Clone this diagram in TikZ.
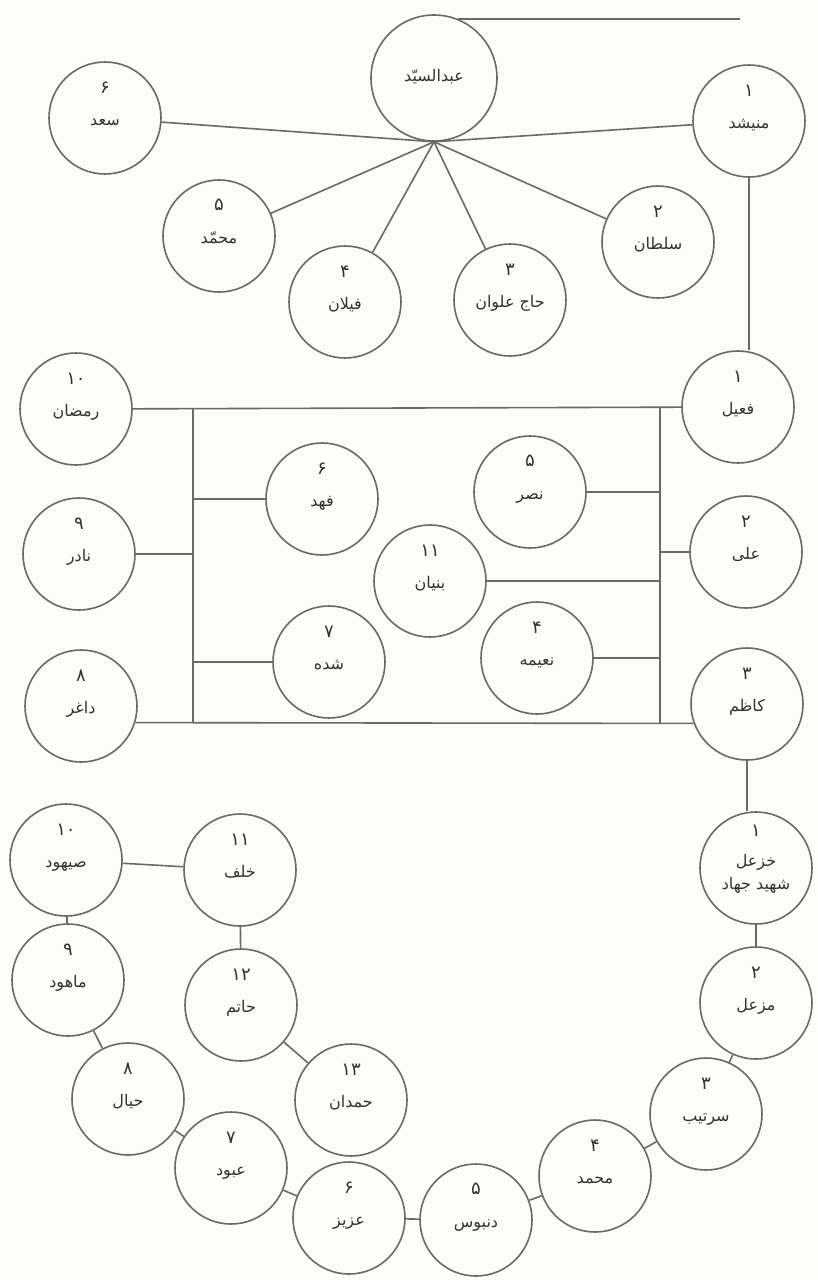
\documentclass[tikz,border=0pt]{standalone}
\usepackage{fontspec}
\usepackage{tikz}
\TeXXeTstate=1
\newfontfamily\arabicfont[Script=Arabic]{DejaVu Sans}
\definecolor{InkGray}{HTML}{333333}
\definecolor{LineGray}{HTML}{6A6A6A}
\definecolor{Paper}{HTML}{FCFCF9}
\newcommand{\rtl}[1]{\beginR#1\endR}

\begin{document}
\begin{tikzpicture}[
  x=1pt,y=-1pt,
  every node/.style={text=InkGray,align=center},
  person/.style={circle,draw=LineGray,line width=1.6pt,minimum size=112pt,inner sep=0pt,text height=19pt,text depth=5pt,font=\arabicfont\fontsize{16}{23}\selectfont},
  elder/.style={person,minimum size=126pt,text height=12pt},
  num/.style={font=\arabicfont\fontsize{18}{20}\selectfont,inner sep=0pt,yshift=-32pt,text=InkGray},
  link/.style={draw=LineGray,line width=1.6pt}
]
\useasboundingbox (0,0) rectangle (818,1280);
\fill[Paper] (0,0) rectangle (818,1280);

\node[elder] (abd) at (434,78) {\rtl{عبدالسیّد}};
\node[person,label={[num]above:۱}] (menishd) at (749,121) {\rtl{منیشد}};
\node[person,label={[num]above:۲}] (sultan) at (658,242) {\rtl{سلطان}};
\node[person,label={[num]above:۳}] (hajalwan) at (510,300) {\rtl{حاج علوان}};
\node[person,label={[num]above:۴}] (feylan) at (345,302) {\rtl{فیلان}};
\node[person,label={[num]above:۵}] (muhammadA) at (219,236) {\rtl{محمّد}};
\node[person,label={[num]above:۶}] (saad) at (105,118) {\rtl{سعد}};
\coordinate (topend) at (740,18);

\node[person,label={[num]above:۱}] (faeel) at (738,407) {\rtl{فعیل}};
\node[person,label={[num]above:۲}] (ali) at (746,552) {\rtl{علی}};
\node[person,label={[num]above:۳}] (kazim) at (747,704) {\rtl{کاظم}};
\node[person,label={[num]above:۴}] (naeemeh) at (537,658) {\rtl{نعیمه}};
\node[person,label={[num]above:۵}] (nasr) at (530,492) {\rtl{نصر}};
\node[person,label={[num]above:۶}] (fahd) at (322,499) {\rtl{فهد}};
\node[person,label={[num]above:۷}] (shidah) at (329,662) {\rtl{شده}};
\node[person,label={[num]above:۸}] (daghir) at (81,706) {\rtl{داغر}};
\node[person,label={[num]above:۹}] (nadir) at (79,554) {\rtl{نادر}};
\node[person,label={[num]above:۱۰}] (ramadan) at (76,409) {\rtl{رمضان}};
\node[person,label={[num]above:۱۱}] (bunyan) at (430,581) {\rtl{بنیان}};
\coordinate (lbtop) at (193,408);
\coordinate (lbbot) at (193,722);
\coordinate (rbtop) at (660,407);
\coordinate (rbbot) at (660,724);

\node[person,text height=47pt,label={[num,yshift=7pt]above:۱}] (khazal) at (756,868) {\rtl{خزعل}\\\rtl{شهید جهاد}};
\node[person,label={[num]above:۲}] (mazal) at (756,1003) {\rtl{مزعل}};
\node[person,label={[num]above:۳}] (sartib) at (706,1114) {\rtl{سرتیب}};
\node[person,label={[num]above:۴}] (muhammadB) at (595,1176) {\rtl{محمد}};
\node[person,label={[num]above:۵}] (danbus) at (476,1220) {\rtl{دنبوس}};
\node[person,label={[num]above:۶}] (aziz) at (349,1218) {\rtl{عزیز}};
\node[person,label={[num]above:۷}] (abbud) at (231,1168) {\rtl{عبود}};
\node[person,label={[num]above:۸}] (hayyal) at (128,1099) {\rtl{حیال}};
\node[person,label={[num]above:۹}] (mahud) at (68,980) {\rtl{ماهود}};
\node[person,label={[num]above:۱۰}] (sayhud) at (66,860) {\rtl{صیهود}};
\node[person,label={[num]above:۱۱}] (khalaf) at (240,870) {\rtl{خلف}};
\node[person,label={[num]above:۱۲}] (hatim) at (241,1005) {\rtl{حاتم}};
\node[person,label={[num]above:۱۳}] (hamdan) at (351,1100) {\rtl{حمدان}};

\draw[link] (abd.68) -- (abd.68 -| topend);
\draw[link] (abd.south) -- (saad);
\draw[link] (abd.south) -- (muhammadA);
\draw[link] (abd.south) -- (feylan);
\draw[link] (abd.south) -- (hajalwan);
\draw[link] (abd.south) -- (sultan);
\draw[link] (abd.south) -- (menishd);
\draw[link] (menishd) -- (menishd |- faeel.north);

\draw[link] (ramadan) -- (faeel);
\draw[link] (daghir.-17) -- (kazim.200);
\draw[link] (lbtop) -- (lbbot);
\draw[link] (rbtop) -- (rbbot);
\draw[link] (fahd) -- (fahd -| lbtop);
\draw[link] (nadir) -- (nadir -| lbtop);
\draw[link] (shidah) -- (shidah -| lbtop);
\draw[link] (nasr) -- (nasr -| rbtop);
\draw[link] (ali) -- (ali -| rbtop);
\draw[link] (bunyan) -- (bunyan -| rbtop);
\draw[link] (naeemeh) -- (naeemeh -| rbtop);
\draw[link] (kazim) -- (kazim |- khazal.north);

\draw[link] (khazal) -- (mazal);
\draw[link] (mazal) -- (sartib);
\draw[link] (sartib) -- (muhammadB);
\draw[link] (muhammadB) -- (danbus);
\draw[link] (danbus) -- (aziz);
\draw[link] (aziz) -- (abbud);
\draw[link] (abbud) -- (hayyal);
\draw[link] (hayyal) -- (mahud);
\draw[link] (mahud) -- (sayhud);
\draw[link] (sayhud) -- (khalaf);
\draw[link] (khalaf) -- (hatim);
\draw[link] (hatim) -- (hamdan);
\end{tikzpicture}
\end{document}
